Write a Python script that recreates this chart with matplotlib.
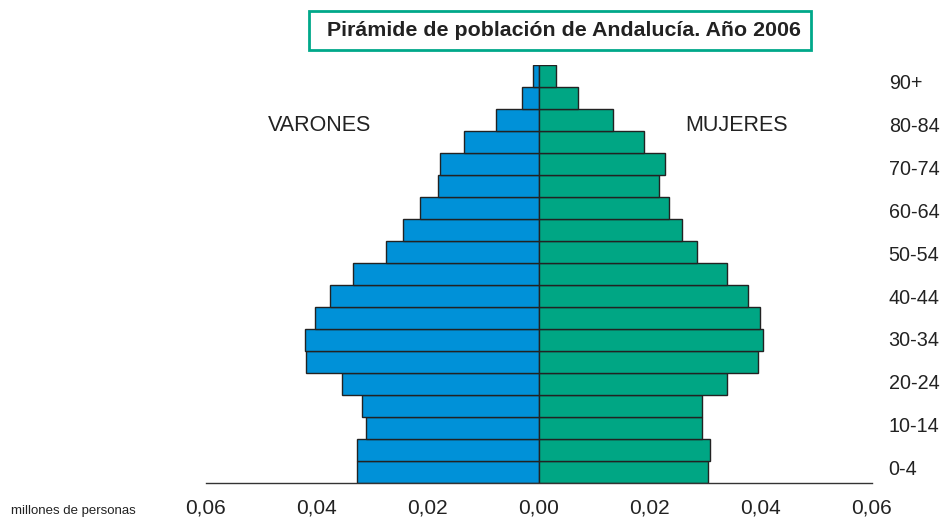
import matplotlib.pyplot as plt
from matplotlib.patches import Rectangle
import numpy as np

# Grupos de edad (de abajo arriba) y población en millones de personas
grupos = ['0-4', '5-9', '10-14', '15-19', '20-24', '25-29', '30-34', '35-39',
          '40-44', '45-49', '50-54', '55-59', '60-64', '65-69', '70-74',
          '75-79', '80-84', '85-89', '90+']
varones = [0.0328, 0.0328, 0.0312, 0.0318, 0.0354, 0.0419, 0.0421, 0.0404,
           0.0377, 0.0335, 0.0275, 0.0245, 0.0214, 0.0181, 0.0178,
           0.0134, 0.0078, 0.0031, 0.0011]
mujeres = [0.0305, 0.0308, 0.0294, 0.0294, 0.0338, 0.0394, 0.0404, 0.0398,
           0.0377, 0.0338, 0.0284, 0.0257, 0.0234, 0.0217, 0.0227,
           0.0190, 0.0134, 0.0070, 0.0030]
etiquetas = ['0-4', '10-14', '20-24', '30-34', '40-44',
             '50-54', '60-64', '70-74', '80-84', '90+']
ticks_x = [-0.06, -0.04, -0.02, 0.0, 0.02, 0.04, 0.06]
ticks_x_txt = ['0,06', '0,04', '0,02', '0,00', '0,02', '0,04', '0,06']

azul = '#0091D8'
verde = '#00A684'

plt.rcParams['font.family'] = ['Liberation Sans', 'DejaVu Sans']

fig = plt.figure(figsize=(9.47, 5.2), dpi=100)
ax = fig.add_axes([0.2172, 0.0706, 0.7036, 0.8044])

y = np.arange(len(grupos))
ax.barh(y, -np.array(varones), height=1.0, color=azul, edgecolor='#222222', linewidth=1.0)
ax.barh(y, mujeres, height=1.0, color=verde, edgecolor='#222222', linewidth=1.0)

ax.set_xlim(-0.06, 0.06)
ax.set_ylim(-0.5, len(grupos) - 0.5)

for s in ['top', 'left', 'right']:
    ax.spines[s].set_visible(False)
ax.spines['bottom'].set_color('#333333')
ax.spines['bottom'].set_linewidth(1.0)

ax.set_xticks(ticks_x)
ax.set_xticklabels(ticks_x_txt, fontsize=15, color='#222222')
ax.tick_params(axis='x', length=0, pad=11)

# etiquetas de edad a la derecha, repartidas de forma uniforme
pos_y = [grupos.index(e) * 0.973 + 0.22 for e in etiquetas]
ax.yaxis.tick_right()
ax.set_yticks(pos_y)
ax.set_yticklabels(etiquetas, fontsize=14.2, color='#222222')
ax.tick_params(axis='y', length=0, pad=12)

fig.text(0.283, 0.759, 'VARONES', fontsize=15.5, color='#222222', ha='left', va='center')
fig.text(0.724, 0.759, 'MUJERES', fontsize=15.5, color='#222222', ha='left', va='center')
fig.text(0.012, 0.017, 'millones de personas', fontsize=9.5, color='#222222', ha='left', va='center')

# recuadro del título
fig.patches.append(Rectangle((309 / 947, 1 - 50 / 520), 502 / 947, 39 / 520,
                             transform=fig.transFigure, facecolor='white',
                             edgecolor='#00A88A', linewidth=2))
fig.text(563.5 / 947, 1 - 31 / 520, 'Pirámide de población de Andalucía. Año 2006',
         fontsize=15.4, fontweight='bold', color='#222222', ha='center', va='center')

plt.savefig('out.png', dpi=100)
